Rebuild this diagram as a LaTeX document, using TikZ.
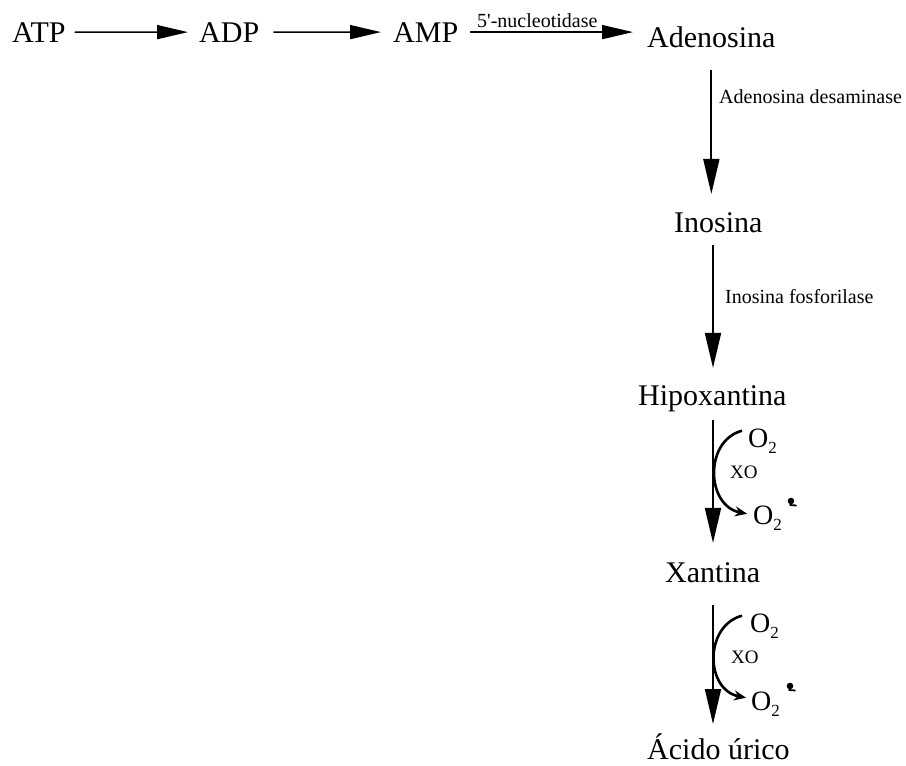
\documentclass[tikz,border=0pt]{standalone}
\usepackage{fontspec}
\setmainfont{Liberation Serif}
\usetikzlibrary{arrows.meta,calc}
\tikzset{
  big/.style={font=\fontsize{30}{36}\selectfont, inner sep=0pt, anchor=base west},
  lab/.style={font=\fontsize{20}{24}\selectfont, inner sep=0pt, anchor=base west},
  xo/.style={font=\fontsize{19}{22}\selectfont, inner sep=0pt, anchor=base west},
  oxy/.style={font=\fontsize{28}{32}\selectfont, inner sep=0pt, anchor=base west},
  harr/.style={line width=1.6pt, -{Triangle[length=31pt,width=14pt]}},
  varr/.style={line width=1.8pt, -{Triangle[length=35pt,width=16pt]}},
  carr/.style={line width=2.6pt, -{Stealth[length=12pt,width=10pt]}},
  radtail/.style={line width=1.8pt, line cap=round},
}
\newcommand{\otwo}{O\raisebox{-6pt}{\fontsize{17}{20}\selectfont 2}}
\begin{document}
\begin{tikzpicture}[x=1pt,y=-1pt]
\useasboundingbox (0,0) rectangle (906,766);
% main compounds
\node[big] (ATP) at (12,42) {ATP};
\node[big] (ADP) at (199,42) {ADP};
\node[big] (AMP) at (393,42) {AMP};
\node[big] (Ade) at (647,47) {Adenosina};
\node[big] (Ino) at (674,232) {Inosina};
\node[big] (Hip) at (638,405) {Hipoxantina};
\node[big] (Xan) at (665,582) {Xantina};
\node[big] (Aci) at (647,759) {Ácido úrico};
\coordinate (col) at (713,0);
% enzyme labels
\node[lab] (nuc) at (477,27) {5\textquotesingle-nucleotidase};
\node[lab] (ada) at (719,103) {Adenosina desaminase};
\node[lab] (inf) at (725,303) {Inosina fosforilase};
% horizontal arrows
\draw[harr, shorten <=9pt, shorten >=11pt] (ATP.east) -- (ADP.west);
\draw[harr, shorten <=14pt, shorten >=12pt] (ADP.east) -- (AMP.west);
\draw[harr, shorten <=12pt, shorten >=14pt] (AMP.east) -- (AMP.east -| Ade.west);
% vertical arrows
\draw[varr, shorten <=23pt, shorten >=18pt] (Ade.south) -- (Ade.south |- Ino.north);
\draw[varr, shorten <=13pt, shorten >=17pt] (Ino.south -| col) -- (Hip.north -| col);
\draw[varr, shorten <=8pt, shorten >=19pt] (Hip.south -| col) -- (Xan.north -| col);
\draw[varr, shorten <=23pt, shorten >=9pt] (Xan.south -| col) -- (Aci.north -| col);
% XO step 1
\node[oxy] (O2a) at (748,447) {\otwo};
\node[oxy] (O2b) at (753,524) {\otwo};
\node[xo] (xo1) at (730,478) {XO};
\draw[carr] ([shift={(-6,-10)}]O2a.west) .. controls +(-38,10) and +(-41,-8) .. ([shift={(-6,-4)}]O2b.west);
\fill (791,501) circle (3.3pt);
\draw[radtail] (790,505) -- (796,505.5);
% XO step 2
\node[oxy] (O2c) at (750,632) {\otwo};
\node[oxy] (O2d) at (751,710) {\otwo};
\node[xo] (xo2) at (731,663) {XO};
\draw[carr] ([shift={(-8,-10)}]O2c.west) .. controls +(-38,10) and +(-41,-8) .. ([shift={(-5,-6)}]O2d.west);
\fill (790,686) circle (3.3pt);
\draw[radtail] (789,690) -- (795,690.5);
\end{tikzpicture}
\end{document}
